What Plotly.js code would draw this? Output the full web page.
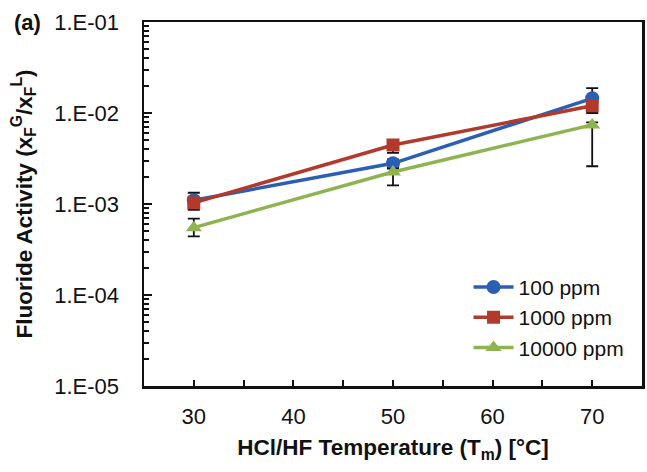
<!DOCTYPE html>
<html>
<head>
<meta charset="utf-8">
<script src="https://cdn.plot.ly/plotly-3.0.1.min.js"></script>
<style>html,body{margin:0;padding:0;background:#fff;}#chart{width:647px;height:472px;}</style>
</head>
<body>
<div id="chart"></div>
<script>
// Data
const temps = [30, 50, 70];
const seriesNames = ['100 ppm', '1000 ppm', '10000 ppm'];
const act100 = [1.1e-3, 2.8e-3, 1.45e-2];
const act1000 = [1.03e-3, 4.45e-3, 1.2e-2];
const act10000 = [5.5e-4, 2.25e-3, 7.4e-3];
// error bar extents (upper/lower absolute deltas)
const err100Plus = [2.3e-4, 3e-4, 4.3e-3];
const err100Minus = [1e-4, 3e-4, 2e-3];
const err1000Plus = [1e-4, 4e-4, 1e-3];
const err1000Minus = [1.7e-4, 8e-4, 2e-3];
const err10000Plus = [1.4e-4, 2e-4, 5e-4];
const err10000Minus = [1.1e-4, 6.5e-4, 4.8e-3];
const yTickVals = [1e-5, 1e-4, 1e-3, 1e-2, 1e-1];
const yTickText = ['1.E-05', '1.E-04', '1.E-03', '1.E-02', '1.E-01'];
const xTickVals = [30, 35, 40, 45, 50, 55, 60, 65, 70];
const xTickText = ['30', '', '40', '', '50', '', '60', '', '70'];
const minorMultipliers = [2, 3, 4, 5, 6, 7, 8, 9];

const minorVals = [];
yTickVals.slice(0, -1).forEach(d => minorMultipliers.forEach(m => minorVals.push(d * m)));

const colors = ['#2b5fb4', '#b23a2c', '#8fb350'];
const symbols = ['circle', 'square', 'triangle-up'];
const sizes = [14, 13, 14];
const ys = [act100, act1000, act10000];
const ep = [err100Plus, err1000Plus, err10000Plus];
const em = [err100Minus, err1000Minus, err10000Minus];

const traces = ys.map((y, i) => ({
  x: temps, y: y, name: seriesNames[i], type: 'scatter', mode: 'lines+markers',
  line: {color: colors[i], width: 3.5},
  marker: {color: colors[i], symbol: symbols[i], size: sizes[i]},
  error_y: {type: 'data', symmetric: false, array: ep[i], arrayminus: em[i],
            color: '#111', thickness: 1.8, width: 6}
}));

const font = 'Arial, "Liberation Sans", sans-serif';
const layout = {
  width: 647, height: 472,
  margin: {l: 144, r: 5, t: 22, b: 86},
  paper_bgcolor: '#fff', plot_bgcolor: '#fff',
  font: {family: font, color: '#111', size: 21},
  showlegend: true,
  legend: {x: 0.975, xanchor: 'right', y: 0.05, yanchor: 'bottom',
           bgcolor: 'rgba(0,0,0,0)', font: {size: 21, family: font},
           tracegroupgap: 0, itemwidth: 40},
  xaxis: {
    range: [25, 75], showgrid: false, zeroline: false,
    showline: true, linecolor: '#111', linewidth: 2.5, mirror: true,
    tickmode: 'array', tickvals: xTickVals, ticktext: xTickText,
    ticks: 'inside', ticklen: 6, tickwidth: 2, tickcolor: '#111',
    ticklabelstandoff: 9,
    tickfont: {size: 22, family: font},
    title: {text: '<b>HCl/HF Temperature (T<sub>m</sub>) [°C]</b>', font: {size: 22.5, family: font}, standoff: 12}
  },
  yaxis: {
    type: 'log', range: [-5, -1], showgrid: false, zeroline: false,
    showline: true, linecolor: '#111', linewidth: 2.5, mirror: true,
    tickmode: 'array', tickvals: yTickVals, ticktext: yTickText,
    ticks: 'inside', ticklen: 8, tickwidth: 2, tickcolor: '#111',
    ticklabelstandoff: 18,
    tickfont: {size: 22, family: font},
    minor: {tickmode: 'array', tickvals: minorVals, ticks: 'inside', ticklen: 5, tickwidth: 2, tickcolor: '#111', showgrid: false},
    title: {text: '<b>Fluoride Activity (x<sub>F</sub><sup>G</sup>/x<sub>F</sub><sup>L</sup>)</b>', font: {size: 22.5, family: font}, standoff: 16}
  },
  annotations: [{
    text: '<b>(a)</b>', xref: 'paper', yref: 'paper', x: -0.265, y: 1.0,
    xanchor: 'left', yanchor: 'middle', showarrow: false, font: {size: 22, family: font}
  }]
};

Plotly.newPlot('chart', traces, layout, {displayModeBar: false, staticPlot: true});
</script>
</body>
</html>
